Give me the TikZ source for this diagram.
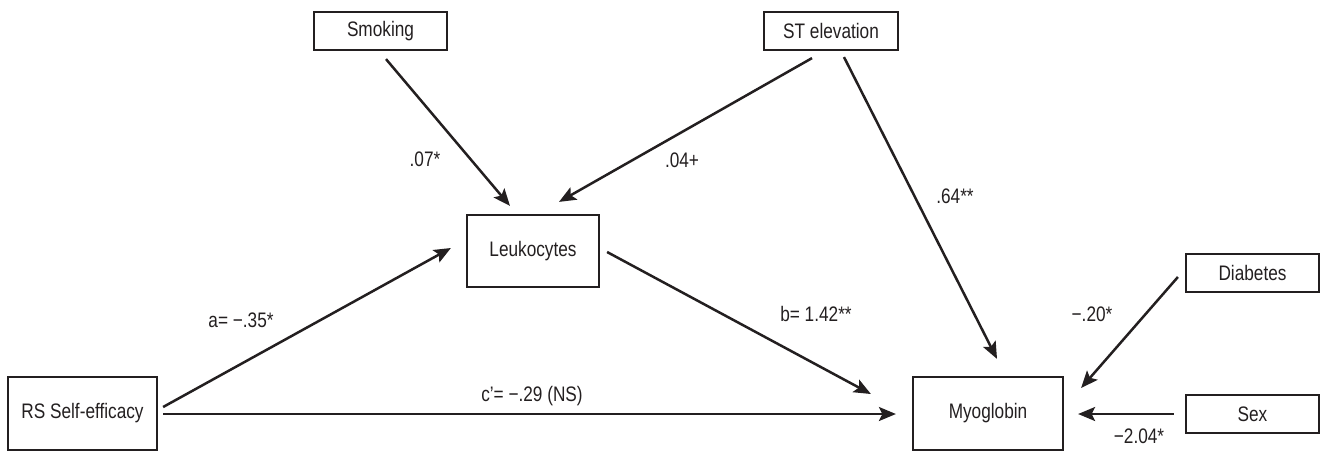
\documentclass[tikz,border=0pt]{standalone}
\usepackage{fontspec}
\setmainfont{Liberation Sans}[FakeStretch=0.82]
\usetikzlibrary{arrows.meta,calc}
\definecolor{ink}{HTML}{231F20}
\begin{document}
\begin{tikzpicture}[x=1pt,y=-1pt,
  box/.style={draw=ink,line width=2.2pt,minimum width=#1,inner sep=0pt,text=ink,
    font=\fontsize{21}{24}\selectfont},
  smallbox/.style={box=#1,minimum height=38pt},
  bigbox/.style={box=#1,minimum height=72pt},
  lab/.style={text=ink,inner sep=0pt,font=\fontsize{21}{24}\selectfont},
  arr/.style={draw=ink,line width=2.5pt,-{Stealth[length=17pt,width=14pt,inset=3.5pt]}}]
\useasboundingbox (0,0) rectangle (1321,451);
% boxes
\node[smallbox=133pt] (smoking) at (380.5,31) {Smoking};
\node[smallbox=134pt] (st) at (831,31) {ST elevation};
\node[bigbox=132pt] (leuk) at (533,251) {Leukocytes};
\node[bigbox=149pt,minimum height=73pt] (rs) at (82.5,413.5) {RS Self-efficacy};
\node[bigbox=150pt,minimum height=73pt] (myo) at (988,413.5) {Myoglobin};
\node[smallbox=133pt] (diab) at (1252.5,273) {Diabetes};
\node[smallbox=133pt] (sex) at (1252.5,414) {Sex};
% connectors
\draw[arr] ($(smoking.south)+(5.5,8)$) -- ($(leuk.north)+(-23,-8)$);
\draw[arr] ($(st.south)+(-19,7)$) -- ($(leuk.north)+(26,-12)$);
\draw[arr] ($(st.south)+(13,6)$) -- ($(myo.north)+(9,-17)$);
\draw[arr] ($(rs.east)+(5,-6.5)$) -- ($(leuk.west)+(-15,-3)$);
\draw[arr] ($(leuk.east)+(7,1)$) -- ($(myo.west)+(-41,-19.5)$);
\draw[arr] ($(rs.east)+(5,0.5)$) -- ($(myo.west)+(-16,0.5)$);
\draw[arr] ($(diab.west)+(-7,4)$) -- ($(myo.east)+(17,-25.5)$);
\draw[arr] ($(sex.west)+(-11,0)$) -- ($(myo.east)+(14,0.5)$);
% labels
\node[lab] (l1) at (425,159) {.07*};
\node[lab] (l2) at (682,160) {.04+};
\node[lab] (l3) at (955,196) {.64**};
\node[lab] (l4) at (241,320) {a= −.35*};
\node[lab] (l5) at (816,314) {b= 1.42**};
\node[lab] (l6) at (532,396) {c’= −.29 (NS)};
\node[lab] (l7) at (1092,314) {−.20*};
\node[lab] (l8) at (1139,436) {−2.04*};
\end{tikzpicture}
\end{document}
